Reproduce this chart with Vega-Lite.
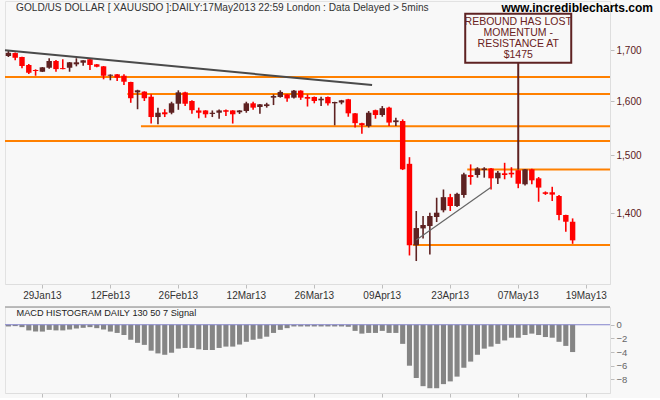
{
  "$schema": "https://vega.github.io/schema/vega-lite/v6.json",
  "background": "#f8f8f8",
  "padding": {"left": 0, "top": 0, "right": 8, "bottom": 0},
  "autosize": {"type": "pad"},
  "config": {
    "font": "Liberation Sans",
    "view": {"stroke": "#e2e2e2"},
    "axis": {"grid": false, "title": null, "labelFont": "Liberation Sans", "labelFontSize": 10, "tickSize": 4, "tickColor": "#bdbdbd", "domainColor": "#dedede", "labelPadding": 2, "labelOverlap": false}
  },
  "datasets": {
    "c": [
      {"d":"2013-01-22","o":1688.5,"h":1698.6,"l":1686.5,"c":1695,"m":-0.25},
      {"d":"2013-01-23","o":1694.5,"h":1695.5,"l":1680,"c":1685,"m":-0.2},
      {"d":"2013-01-24","o":1686.4,"h":1687,"l":1664,"c":1668.5,"m":-0.35},
      {"d":"2013-01-25","o":1670.5,"h":1672.5,"l":1652.7,"c":1655.2,"m":-0.83},
      {"d":"2013-01-28","o":1660.6,"h":1662,"l":1649.3,"c":1658.6,"m":-1.0},
      {"d":"2013-01-29","o":1657.2,"h":1666.5,"l":1656.6,"c":1665.9,"m":-1.0},
      {"d":"2013-01-30","o":1665.1,"h":1684,"l":1663,"c":1678.5,"m":-0.75},
      {"d":"2013-01-31","o":1678.5,"h":1680.5,"l":1657.2,"c":1662.4,"m":-0.83},
      {"d":"2013-02-01","o":1664.4,"h":1682,"l":1662,"c":1662.4,"m":-0.83},
      {"d":"2013-02-04","o":1665.1,"h":1676.5,"l":1657.2,"c":1675.9,"m":-0.7},
      {"d":"2013-02-05","o":1671.9,"h":1684,"l":1667.9,"c":1675.9,"m":-0.55},
      {"d":"2013-02-06","o":1675.1,"h":1680,"l":1669.1,"c":1679.9,"m":-0.45},
      {"d":"2013-02-07","o":1682,"h":1684,"l":1660.4,"c":1670.5,"m":-0.35},
      {"d":"2013-02-08","o":1671.9,"h":1672.5,"l":1666,"c":1667.1,"m":-0.5},
      {"d":"2013-02-11","o":1667.9,"h":1668.5,"l":1642.3,"c":1649.3,"m":-0.7},
      {"d":"2013-02-12","o":1649.3,"h":1652,"l":1640.4,"c":1651.3,"m":-1.0},
      {"d":"2013-02-13","o":1652.1,"h":1652.5,"l":1639,"c":1645.4,"m":-1.2},
      {"d":"2013-02-14","o":1649.3,"h":1652.1,"l":1631,"c":1637.6,"m":-1.5},
      {"d":"2013-02-15","o":1637,"h":1637.5,"l":1597,"c":1605.7,"m":-2.2},
      {"d":"2013-02-18","o":1617,"h":1622,"l":1584.8,"c":1620.9,"m":-2.65},
      {"d":"2013-02-19","o":1618.4,"h":1619,"l":1600.4,"c":1605.7,"m":-2.95},
      {"d":"2013-02-20","o":1608.6,"h":1613.1,"l":1558,"c":1570.1,"m":-3.8},
      {"d":"2013-02-21","o":1570.1,"h":1587.8,"l":1556.8,"c":1578.2,"m":-4.2},
      {"d":"2013-02-22","o":1579,"h":1584.8,"l":1570.1,"c":1575.3,"m":-4.4},
      {"d":"2013-02-25","o":1578.2,"h":1599,"l":1575.3,"c":1596,"m":-4.1},
      {"d":"2013-02-26","o":1595.2,"h":1620.9,"l":1583.7,"c":1617,"m":-3.5},
      {"d":"2013-02-27","o":1617,"h":1618,"l":1590.8,"c":1595.2,"m":-3.4},
      {"d":"2013-02-28","o":1600.4,"h":1601.7,"l":1576.4,"c":1583,"m":-3.4},
      {"d":"2013-03-01","o":1582.5,"h":1587.8,"l":1567.7,"c":1578.2,"m":-3.6},
      {"d":"2013-03-04","o":1582.5,"h":1583,"l":1568.8,"c":1575.3,"m":-3.7},
      {"d":"2013-03-05","o":1575.9,"h":1582.5,"l":1570.1,"c":1578.2,"m":-3.7},
      {"d":"2013-03-06","o":1578.2,"h":1584.3,"l":1567,"c":1582.5,"m":-3.4},
      {"d":"2013-03-07","o":1583,"h":1584.3,"l":1572,"c":1580,"m":-3.2},
      {"d":"2013-03-08","o":1582.5,"h":1583,"l":1558,"c":1575.3,"m":-3.2},
      {"d":"2013-03-11","o":1579,"h":1583,"l":1575.9,"c":1582.5,"m":-2.9},
      {"d":"2013-03-12","o":1581.4,"h":1599,"l":1578.2,"c":1596,"m":-2.5},
      {"d":"2013-03-13","o":1596,"h":1599,"l":1583.7,"c":1587.8,"m":-2.2},
      {"d":"2013-03-14","o":1589,"h":1594.5,"l":1576.4,"c":1594.1,"m":-2.05},
      {"d":"2013-03-15","o":1590.8,"h":1597,"l":1587.8,"c":1594.1,"m":-1.75},
      {"d":"2013-03-18","o":1606.8,"h":1613.1,"l":1592.7,"c":1609.9,"m":-1.2},
      {"d":"2013-03-19","o":1608.1,"h":1620.9,"l":1606.8,"c":1617.8,"m":-0.75},
      {"d":"2013-03-20","o":1613.1,"h":1614,"l":1599,"c":1605.3,"m":-0.5},
      {"d":"2013-03-21","o":1606.8,"h":1621.3,"l":1605,"c":1620.3,"m":-0.25},
      {"d":"2013-03-22","o":1620.3,"h":1621,"l":1602.6,"c":1606.8,"m":-0.25},
      {"d":"2013-03-25","o":1608.1,"h":1613.1,"l":1589.9,"c":1604.8,"m":-0.25},
      {"d":"2013-03-26","o":1608.1,"h":1609,"l":1596,"c":1600.4,"m":-0.25},
      {"d":"2013-03-27","o":1601.7,"h":1608.6,"l":1590.8,"c":1604.8,"m":-0.25},
      {"d":"2013-03-28","o":1608.1,"h":1609,"l":1592,"c":1596,"m":-0.25},
      {"d":"2013-03-29","o":1596,"h":1599,"l":1554.7,"c":1598.5,"m":-0.25},
      {"d":"2013-04-01","o":1597.5,"h":1602.5,"l":1594.1,"c":1601.7,"m":-0.25},
      {"d":"2013-04-02","o":1603.7,"h":1604.5,"l":1570.7,"c":1577.1,"m":-0.3},
      {"d":"2013-04-03","o":1577.1,"h":1577.5,"l":1550.6,"c":1558.7,"m":-0.9},
      {"d":"2013-04-04","o":1558.7,"h":1559.5,"l":1539.3,"c":1555,"m":-1.3},
      {"d":"2013-04-05","o":1553.4,"h":1581.4,"l":1550.6,"c":1578.2,"m":-1.2},
      {"d":"2013-04-08","o":1583,"h":1584,"l":1567,"c":1573.9,"m":-1.2},
      {"d":"2013-04-09","o":1573.9,"h":1590.8,"l":1570.7,"c":1586.7,"m":-0.9},
      {"d":"2013-04-10","o":1587.8,"h":1589.6,"l":1553.4,"c":1559.8,"m":-1.2},
      {"d":"2013-04-11","o":1560.6,"h":1568.8,"l":1553.4,"c":1563.9,"m":-1.2},
      {"d":"2013-04-12","o":1562.7,"h":1565.7,"l":1474,"c":1475.3,"m":-2.8},
      {"d":"2013-04-15","o":1485,"h":1496.8,"l":1331.4,"c":1347.7,"m":-6.0},
      {"d":"2013-04-16","o":1347.7,"h":1403.8,"l":1322.6,"c":1375.6,"m":-7.8},
      {"d":"2013-04-17","o":1375,"h":1395.5,"l":1358.7,"c":1380.6,"m":-9.0},
      {"d":"2013-04-18","o":1378.9,"h":1401,"l":1333,"c":1395.5,"m":-9.3},
      {"d":"2013-04-19","o":1393.8,"h":1426.2,"l":1385.5,"c":1401,"m":-9.3},
      {"d":"2013-04-22","o":1405,"h":1440.3,"l":1401.6,"c":1427.2,"m":-8.7},
      {"d":"2013-04-23","o":1427.2,"h":1432.8,"l":1403.8,"c":1412.2,"m":-8.3},
      {"d":"2013-04-24","o":1412.2,"h":1434.5,"l":1410.5,"c":1432.8,"m":-7.6},
      {"d":"2013-04-25","o":1430.8,"h":1469.4,"l":1426.2,"c":1466.5,"m":-6.3},
      {"d":"2013-04-26","o":1465.3,"h":1484,"l":1448.5,"c":1461.9,"m":-5.4},
      {"d":"2013-04-29","o":1465.3,"h":1479,"l":1460.7,"c":1476.8,"m":-4.4},
      {"d":"2013-04-30","o":1474,"h":1479,"l":1460.7,"c":1476.8,"m":-3.5},
      {"d":"2013-05-01","o":1476.8,"h":1477.5,"l":1440.3,"c":1459.6,"m":-3.2},
      {"d":"2013-05-02","o":1459.6,"h":1472.3,"l":1449.6,"c":1469.3,"m":-2.8},
      {"d":"2013-05-03","o":1468.3,"h":1486.8,"l":1457.9,"c":1465.3,"m":-2.3},
      {"d":"2013-05-06","o":1469.3,"h":1479,"l":1460.7,"c":1466.5,"m":-1.9},
      {"d":"2013-05-07","o":1473.5,"h":1474.5,"l":1442.5,"c":1450.2,"m":-1.9},
      {"d":"2013-05-08","o":1449.2,"h":1476,"l":1447,"c":1475.3,"m":-1.5},
      {"d":"2013-05-09","o":1475.3,"h":1476.5,"l":1449.2,"c":1456.1,"m":-1.3},
      {"d":"2013-05-10","o":1459.6,"h":1461.9,"l":1419.4,"c":1443.5,"m":-1.5},
      {"d":"2013-05-13","o":1435.5,"h":1437,"l":1431,"c":1432.8,"m":-1.8},
      {"d":"2013-05-14","o":1435.5,"h":1444.9,"l":1420.6,"c":1431.5,"m":-1.9},
      {"d":"2013-05-15","o":1429.1,"h":1430.8,"l":1388.4,"c":1397.2,"m":-2.5},
      {"d":"2013-05-16","o":1397.2,"h":1397.5,"l":1369.5,"c":1386,"m":-3.1},
      {"d":"2013-05-17","o":1386,"h":1391.5,"l":1350,"c":1355.6,"m":-4.0}
    ],
    "hf": [{"p": 1647}, {"p": 1526}],
    "hp": [{"d":"2013-02-15","p":1614},{"d":"2013-02-19","p":1553},{"d":"2013-04-26","p":1475},{"d":"2013-04-16","p":1348}],
    "td": [{"d":"2013-01-22","p":1700},{"d":"2013-04-08","p":1631}],
    "tu": [{"d":"2013-04-16","p":1356},{"d":"2013-05-01","p":1444}],
    "a": [{"d":"2013-05-07","top":1775.8,"bot":1675.1,"tp":1758.9,"end":1475,"t":"REBOUND HAS LOST\nMOMENTUM -\nRESISTANCE AT\n$1475"}],
    "tt": [{"d":"2013-01-22","p":1781.5,"t":"GOLD/US DOLLAR [ XAUUSDO ]:DAILY:17May2013 22:59 London : Data Delayed > 5mins"}],
    "web": [{"d":"2013-05-22","p":1779.4,"t":"www.incrediblecharts.com"}],
    "mt": [{"d":"2013-01-22","v":1.28,"t":"MACD HISTOGRAM DAILY 130 50 7 Signal"}],
    "zl": [{"v": 0}],
    "sl": [{"v": 2.6}]
  },
  "spacing": 23,
  "bounds": "flush",
  "vconcat": [
    {
      "width": 605,
      "height": 283,
      "layer": [
        {
          "data": {"name": "hf"},
          "mark": {"type": "rule", "color": "#ff8000", "strokeWidth": 2},
          "encoding": {
            "y": {"field": "p", "type": "quantitative", "scale": {"type": "log", "domain": [1286.9, 1802.9], "nice": false, "zero": false},
                  "axis": {"orient": "right", "values": [1400, 1500, 1600, 1700], "format": ",", "labelColor": "#5c1a1a"}}
          }
        },
        {
          "data": {"name": "hp"},
          "mark": {"type": "rule", "color": "#ff8000", "strokeWidth": 2},
          "encoding": {
            "x": {"field": "d", "type": "ordinal", "bandPosition": 0,
                  "scale": {"type": "band", "paddingInner": 0, "paddingOuter": 0, "domain": ["2013-01-22","2013-01-23","2013-01-24","2013-01-25","2013-01-28","2013-01-29","2013-01-30","2013-01-31","2013-02-01","2013-02-04","2013-02-05","2013-02-06","2013-02-07","2013-02-08","2013-02-11","2013-02-12","2013-02-13","2013-02-14","2013-02-15","2013-02-18","2013-02-19","2013-02-20","2013-02-21","2013-02-22","2013-02-25","2013-02-26","2013-02-27","2013-02-28","2013-03-01","2013-03-04","2013-03-05","2013-03-06","2013-03-07","2013-03-08","2013-03-11","2013-03-12","2013-03-13","2013-03-14","2013-03-15","2013-03-18","2013-03-19","2013-03-20","2013-03-21","2013-03-22","2013-03-25","2013-03-26","2013-03-27","2013-03-28","2013-03-29","2013-04-01","2013-04-02","2013-04-03","2013-04-04","2013-04-05","2013-04-08","2013-04-09","2013-04-10","2013-04-11","2013-04-12","2013-04-15","2013-04-16","2013-04-17","2013-04-18","2013-04-19","2013-04-22","2013-04-23","2013-04-24","2013-04-25","2013-04-26","2013-04-29","2013-04-30","2013-05-01","2013-05-02","2013-05-03","2013-05-06","2013-05-07","2013-05-08","2013-05-09","2013-05-10","2013-05-13","2013-05-14","2013-05-15","2013-05-16","2013-05-17","2013-05-18","2013-05-19","2013-05-20","2013-05-21","2013-05-22"]},
                  "axis": {"values": ["2013-01-29","2013-02-12","2013-02-26","2013-03-12","2013-03-26","2013-04-09","2013-04-23","2013-05-07","2013-05-19"], "labelExpr": "utcFormat(toDate(datum.value), '%d%b%y')", "labelAngle": 0, "labelColor": "#333333"}},
            "x2": {"value": "width"},
            "y": {"field": "p", "type": "quantitative"}
          }
        },
        {
          "data": {"name": "c"},
          "mark": {"type": "rule", "strokeWidth": 1.6},
          "encoding": {
            "x": {"field": "d", "type": "ordinal",
                  "scale": {"type": "band", "paddingInner": 0, "paddingOuter": 0, "domain": ["2013-01-22","2013-01-23","2013-01-24","2013-01-25","2013-01-28","2013-01-29","2013-01-30","2013-01-31","2013-02-01","2013-02-04","2013-02-05","2013-02-06","2013-02-07","2013-02-08","2013-02-11","2013-02-12","2013-02-13","2013-02-14","2013-02-15","2013-02-18","2013-02-19","2013-02-20","2013-02-21","2013-02-22","2013-02-25","2013-02-26","2013-02-27","2013-02-28","2013-03-01","2013-03-04","2013-03-05","2013-03-06","2013-03-07","2013-03-08","2013-03-11","2013-03-12","2013-03-13","2013-03-14","2013-03-15","2013-03-18","2013-03-19","2013-03-20","2013-03-21","2013-03-22","2013-03-25","2013-03-26","2013-03-27","2013-03-28","2013-03-29","2013-04-01","2013-04-02","2013-04-03","2013-04-04","2013-04-05","2013-04-08","2013-04-09","2013-04-10","2013-04-11","2013-04-12","2013-04-15","2013-04-16","2013-04-17","2013-04-18","2013-04-19","2013-04-22","2013-04-23","2013-04-24","2013-04-25","2013-04-26","2013-04-29","2013-04-30","2013-05-01","2013-05-02","2013-05-03","2013-05-06","2013-05-07","2013-05-08","2013-05-09","2013-05-10","2013-05-13","2013-05-14","2013-05-15","2013-05-16","2013-05-17","2013-05-18","2013-05-19","2013-05-20","2013-05-21","2013-05-22"]}},
            "y": {"field": "l", "type": "quantitative"},
            "y2": {"field": "h"},
            "color": {"condition": {"test": "datum.c >= datum.o", "value": "#5e2222"}, "value": "#ff0000"}
          }
        },
        {
          "data": {"name": "c"},
          "mark": {"type": "bar", "width": {"band": 0.8}},
          "encoding": {
            "x": {"field": "d", "type": "ordinal",
                  "scale": {"type": "band", "paddingInner": 0, "paddingOuter": 0, "domain": ["2013-01-22","2013-01-23","2013-01-24","2013-01-25","2013-01-28","2013-01-29","2013-01-30","2013-01-31","2013-02-01","2013-02-04","2013-02-05","2013-02-06","2013-02-07","2013-02-08","2013-02-11","2013-02-12","2013-02-13","2013-02-14","2013-02-15","2013-02-18","2013-02-19","2013-02-20","2013-02-21","2013-02-22","2013-02-25","2013-02-26","2013-02-27","2013-02-28","2013-03-01","2013-03-04","2013-03-05","2013-03-06","2013-03-07","2013-03-08","2013-03-11","2013-03-12","2013-03-13","2013-03-14","2013-03-15","2013-03-18","2013-03-19","2013-03-20","2013-03-21","2013-03-22","2013-03-25","2013-03-26","2013-03-27","2013-03-28","2013-03-29","2013-04-01","2013-04-02","2013-04-03","2013-04-04","2013-04-05","2013-04-08","2013-04-09","2013-04-10","2013-04-11","2013-04-12","2013-04-15","2013-04-16","2013-04-17","2013-04-18","2013-04-19","2013-04-22","2013-04-23","2013-04-24","2013-04-25","2013-04-26","2013-04-29","2013-04-30","2013-05-01","2013-05-02","2013-05-03","2013-05-06","2013-05-07","2013-05-08","2013-05-09","2013-05-10","2013-05-13","2013-05-14","2013-05-15","2013-05-16","2013-05-17","2013-05-18","2013-05-19","2013-05-20","2013-05-21","2013-05-22"]}},
            "y": {"field": "o", "type": "quantitative"},
            "y2": {"field": "c"},
            "color": {"condition": {"test": "datum.c >= datum.o", "value": "#5e2222"}, "value": "#ff0000"}
          }
        },
        {
          "data": {"name": "td"},
          "mark": {"type": "line", "color": "#4a4a4a", "strokeWidth": 2},
          "encoding": {
            "x": {"field": "d", "type": "ordinal", "bandPosition": 0,
                  "scale": {"type": "band", "paddingInner": 0, "paddingOuter": 0, "domain": ["2013-01-22","2013-01-23","2013-01-24","2013-01-25","2013-01-28","2013-01-29","2013-01-30","2013-01-31","2013-02-01","2013-02-04","2013-02-05","2013-02-06","2013-02-07","2013-02-08","2013-02-11","2013-02-12","2013-02-13","2013-02-14","2013-02-15","2013-02-18","2013-02-19","2013-02-20","2013-02-21","2013-02-22","2013-02-25","2013-02-26","2013-02-27","2013-02-28","2013-03-01","2013-03-04","2013-03-05","2013-03-06","2013-03-07","2013-03-08","2013-03-11","2013-03-12","2013-03-13","2013-03-14","2013-03-15","2013-03-18","2013-03-19","2013-03-20","2013-03-21","2013-03-22","2013-03-25","2013-03-26","2013-03-27","2013-03-28","2013-03-29","2013-04-01","2013-04-02","2013-04-03","2013-04-04","2013-04-05","2013-04-08","2013-04-09","2013-04-10","2013-04-11","2013-04-12","2013-04-15","2013-04-16","2013-04-17","2013-04-18","2013-04-19","2013-04-22","2013-04-23","2013-04-24","2013-04-25","2013-04-26","2013-04-29","2013-04-30","2013-05-01","2013-05-02","2013-05-03","2013-05-06","2013-05-07","2013-05-08","2013-05-09","2013-05-10","2013-05-13","2013-05-14","2013-05-15","2013-05-16","2013-05-17","2013-05-18","2013-05-19","2013-05-20","2013-05-21","2013-05-22"]}},
            "y": {"field": "p", "type": "quantitative"}
          }
        },
        {
          "data": {"name": "tu"},
          "mark": {"type": "line", "color": "#666666", "strokeWidth": 1.2},
          "encoding": {
            "x": {"field": "d", "type": "ordinal",
                  "scale": {"type": "band", "paddingInner": 0, "paddingOuter": 0, "domain": ["2013-01-22","2013-01-23","2013-01-24","2013-01-25","2013-01-28","2013-01-29","2013-01-30","2013-01-31","2013-02-01","2013-02-04","2013-02-05","2013-02-06","2013-02-07","2013-02-08","2013-02-11","2013-02-12","2013-02-13","2013-02-14","2013-02-15","2013-02-18","2013-02-19","2013-02-20","2013-02-21","2013-02-22","2013-02-25","2013-02-26","2013-02-27","2013-02-28","2013-03-01","2013-03-04","2013-03-05","2013-03-06","2013-03-07","2013-03-08","2013-03-11","2013-03-12","2013-03-13","2013-03-14","2013-03-15","2013-03-18","2013-03-19","2013-03-20","2013-03-21","2013-03-22","2013-03-25","2013-03-26","2013-03-27","2013-03-28","2013-03-29","2013-04-01","2013-04-02","2013-04-03","2013-04-04","2013-04-05","2013-04-08","2013-04-09","2013-04-10","2013-04-11","2013-04-12","2013-04-15","2013-04-16","2013-04-17","2013-04-18","2013-04-19","2013-04-22","2013-04-23","2013-04-24","2013-04-25","2013-04-26","2013-04-29","2013-04-30","2013-05-01","2013-05-02","2013-05-03","2013-05-06","2013-05-07","2013-05-08","2013-05-09","2013-05-10","2013-05-13","2013-05-14","2013-05-15","2013-05-16","2013-05-17","2013-05-18","2013-05-19","2013-05-20","2013-05-21","2013-05-22"]}},
            "y": {"field": "p", "type": "quantitative"}
          }
        },
        {
          "data": {"name": "a"},
          "mark": {"type": "rule", "color": "#5e2222", "strokeWidth": 2},
          "encoding": {
            "x": {"field": "d", "type": "ordinal",
                  "scale": {"type": "band", "paddingInner": 0, "paddingOuter": 0, "domain": ["2013-01-22","2013-01-23","2013-01-24","2013-01-25","2013-01-28","2013-01-29","2013-01-30","2013-01-31","2013-02-01","2013-02-04","2013-02-05","2013-02-06","2013-02-07","2013-02-08","2013-02-11","2013-02-12","2013-02-13","2013-02-14","2013-02-15","2013-02-18","2013-02-19","2013-02-20","2013-02-21","2013-02-22","2013-02-25","2013-02-26","2013-02-27","2013-02-28","2013-03-01","2013-03-04","2013-03-05","2013-03-06","2013-03-07","2013-03-08","2013-03-11","2013-03-12","2013-03-13","2013-03-14","2013-03-15","2013-03-18","2013-03-19","2013-03-20","2013-03-21","2013-03-22","2013-03-25","2013-03-26","2013-03-27","2013-03-28","2013-03-29","2013-04-01","2013-04-02","2013-04-03","2013-04-04","2013-04-05","2013-04-08","2013-04-09","2013-04-10","2013-04-11","2013-04-12","2013-04-15","2013-04-16","2013-04-17","2013-04-18","2013-04-19","2013-04-22","2013-04-23","2013-04-24","2013-04-25","2013-04-26","2013-04-29","2013-04-30","2013-05-01","2013-05-02","2013-05-03","2013-05-06","2013-05-07","2013-05-08","2013-05-09","2013-05-10","2013-05-13","2013-05-14","2013-05-15","2013-05-16","2013-05-17","2013-05-18","2013-05-19","2013-05-20","2013-05-21","2013-05-22"]}},
            "y": {"field": "bot", "type": "quantitative"},
            "y2": {"field": "end"}
          }
        },
        {
          "data": {"name": "a"},
          "mark": {"type": "bar", "width": 106, "fill": "#f8f8f8", "stroke": "#5e2222", "strokeWidth": 2},
          "encoding": {
            "x": {"field": "d", "type": "ordinal",
                  "scale": {"type": "band", "paddingInner": 0, "paddingOuter": 0, "domain": ["2013-01-22","2013-01-23","2013-01-24","2013-01-25","2013-01-28","2013-01-29","2013-01-30","2013-01-31","2013-02-01","2013-02-04","2013-02-05","2013-02-06","2013-02-07","2013-02-08","2013-02-11","2013-02-12","2013-02-13","2013-02-14","2013-02-15","2013-02-18","2013-02-19","2013-02-20","2013-02-21","2013-02-22","2013-02-25","2013-02-26","2013-02-27","2013-02-28","2013-03-01","2013-03-04","2013-03-05","2013-03-06","2013-03-07","2013-03-08","2013-03-11","2013-03-12","2013-03-13","2013-03-14","2013-03-15","2013-03-18","2013-03-19","2013-03-20","2013-03-21","2013-03-22","2013-03-25","2013-03-26","2013-03-27","2013-03-28","2013-03-29","2013-04-01","2013-04-02","2013-04-03","2013-04-04","2013-04-05","2013-04-08","2013-04-09","2013-04-10","2013-04-11","2013-04-12","2013-04-15","2013-04-16","2013-04-17","2013-04-18","2013-04-19","2013-04-22","2013-04-23","2013-04-24","2013-04-25","2013-04-26","2013-04-29","2013-04-30","2013-05-01","2013-05-02","2013-05-03","2013-05-06","2013-05-07","2013-05-08","2013-05-09","2013-05-10","2013-05-13","2013-05-14","2013-05-15","2013-05-16","2013-05-17","2013-05-18","2013-05-19","2013-05-20","2013-05-21","2013-05-22"]}},
            "y": {"field": "top", "type": "quantitative"},
            "y2": {"field": "bot"}
          }
        },
        {
          "data": {"name": "a"},
          "mark": {"type": "text", "align": "center", "baseline": "middle", "lineBreak": "\n", "lineHeight": 11, "fontSize": 10.5, "color": "#6a2222", "font": "Liberation Sans"},
          "encoding": {
            "x": {"field": "d", "type": "ordinal",
                  "scale": {"type": "band", "paddingInner": 0, "paddingOuter": 0, "domain": ["2013-01-22","2013-01-23","2013-01-24","2013-01-25","2013-01-28","2013-01-29","2013-01-30","2013-01-31","2013-02-01","2013-02-04","2013-02-05","2013-02-06","2013-02-07","2013-02-08","2013-02-11","2013-02-12","2013-02-13","2013-02-14","2013-02-15","2013-02-18","2013-02-19","2013-02-20","2013-02-21","2013-02-22","2013-02-25","2013-02-26","2013-02-27","2013-02-28","2013-03-01","2013-03-04","2013-03-05","2013-03-06","2013-03-07","2013-03-08","2013-03-11","2013-03-12","2013-03-13","2013-03-14","2013-03-15","2013-03-18","2013-03-19","2013-03-20","2013-03-21","2013-03-22","2013-03-25","2013-03-26","2013-03-27","2013-03-28","2013-03-29","2013-04-01","2013-04-02","2013-04-03","2013-04-04","2013-04-05","2013-04-08","2013-04-09","2013-04-10","2013-04-11","2013-04-12","2013-04-15","2013-04-16","2013-04-17","2013-04-18","2013-04-19","2013-04-22","2013-04-23","2013-04-24","2013-04-25","2013-04-26","2013-04-29","2013-04-30","2013-05-01","2013-05-02","2013-05-03","2013-05-06","2013-05-07","2013-05-08","2013-05-09","2013-05-10","2013-05-13","2013-05-14","2013-05-15","2013-05-16","2013-05-17","2013-05-18","2013-05-19","2013-05-20","2013-05-21","2013-05-22"]}},
            "y": {"field": "tp", "type": "quantitative"},
            "text": {"field": "t", "type": "nominal"}
          }
        },
        {
          "data": {"name": "tt"},
          "mark": {"type": "text", "align": "left", "baseline": "alphabetic", "dx": 11, "fontSize": 10.15, "color": "#333333", "font": "Liberation Sans"},
          "encoding": {
            "x": {"field": "d", "type": "ordinal", "bandPosition": 0,
                  "scale": {"type": "band", "paddingInner": 0, "paddingOuter": 0, "domain": ["2013-01-22","2013-01-23","2013-01-24","2013-01-25","2013-01-28","2013-01-29","2013-01-30","2013-01-31","2013-02-01","2013-02-04","2013-02-05","2013-02-06","2013-02-07","2013-02-08","2013-02-11","2013-02-12","2013-02-13","2013-02-14","2013-02-15","2013-02-18","2013-02-19","2013-02-20","2013-02-21","2013-02-22","2013-02-25","2013-02-26","2013-02-27","2013-02-28","2013-03-01","2013-03-04","2013-03-05","2013-03-06","2013-03-07","2013-03-08","2013-03-11","2013-03-12","2013-03-13","2013-03-14","2013-03-15","2013-03-18","2013-03-19","2013-03-20","2013-03-21","2013-03-22","2013-03-25","2013-03-26","2013-03-27","2013-03-28","2013-03-29","2013-04-01","2013-04-02","2013-04-03","2013-04-04","2013-04-05","2013-04-08","2013-04-09","2013-04-10","2013-04-11","2013-04-12","2013-04-15","2013-04-16","2013-04-17","2013-04-18","2013-04-19","2013-04-22","2013-04-23","2013-04-24","2013-04-25","2013-04-26","2013-04-29","2013-04-30","2013-05-01","2013-05-02","2013-05-03","2013-05-06","2013-05-07","2013-05-08","2013-05-09","2013-05-10","2013-05-13","2013-05-14","2013-05-15","2013-05-16","2013-05-17","2013-05-18","2013-05-19","2013-05-20","2013-05-21","2013-05-22"]}},
            "y": {"field": "p", "type": "quantitative"},
            "text": {"field": "t", "type": "nominal"}
          }
        },
        {
          "data": {"name": "web"},
          "mark": {"type": "text", "align": "right", "baseline": "alphabetic", "dx": 43, "fontSize": 12, "fontWeight": "bold", "color": "#000000", "font": "Liberation Sans"},
          "encoding": {
            "x": {"field": "d", "type": "ordinal", "bandPosition": 1,
                  "scale": {"type": "band", "paddingInner": 0, "paddingOuter": 0, "domain": ["2013-01-22","2013-01-23","2013-01-24","2013-01-25","2013-01-28","2013-01-29","2013-01-30","2013-01-31","2013-02-01","2013-02-04","2013-02-05","2013-02-06","2013-02-07","2013-02-08","2013-02-11","2013-02-12","2013-02-13","2013-02-14","2013-02-15","2013-02-18","2013-02-19","2013-02-20","2013-02-21","2013-02-22","2013-02-25","2013-02-26","2013-02-27","2013-02-28","2013-03-01","2013-03-04","2013-03-05","2013-03-06","2013-03-07","2013-03-08","2013-03-11","2013-03-12","2013-03-13","2013-03-14","2013-03-15","2013-03-18","2013-03-19","2013-03-20","2013-03-21","2013-03-22","2013-03-25","2013-03-26","2013-03-27","2013-03-28","2013-03-29","2013-04-01","2013-04-02","2013-04-03","2013-04-04","2013-04-05","2013-04-08","2013-04-09","2013-04-10","2013-04-11","2013-04-12","2013-04-15","2013-04-16","2013-04-17","2013-04-18","2013-04-19","2013-04-22","2013-04-23","2013-04-24","2013-04-25","2013-04-26","2013-04-29","2013-04-30","2013-05-01","2013-05-02","2013-05-03","2013-05-06","2013-05-07","2013-05-08","2013-05-09","2013-05-10","2013-05-13","2013-05-14","2013-05-15","2013-05-16","2013-05-17","2013-05-18","2013-05-19","2013-05-20","2013-05-21","2013-05-22"]}},
            "y": {"field": "p", "type": "quantitative"},
            "text": {"field": "t", "type": "nominal"}
          }
        }
      ]
    },
    {
      "width": 605,
      "height": 86,
      "layer": [
        {
          "data": {"name": "c"},
          "mark": {"type": "bar", "color": "#858585", "width": {"band": 0.75}},
          "encoding": {
            "x": {"field": "d", "type": "ordinal",
                  "scale": {"type": "band", "paddingInner": 0, "paddingOuter": 0, "domain": ["2013-01-22","2013-01-23","2013-01-24","2013-01-25","2013-01-28","2013-01-29","2013-01-30","2013-01-31","2013-02-01","2013-02-04","2013-02-05","2013-02-06","2013-02-07","2013-02-08","2013-02-11","2013-02-12","2013-02-13","2013-02-14","2013-02-15","2013-02-18","2013-02-19","2013-02-20","2013-02-21","2013-02-22","2013-02-25","2013-02-26","2013-02-27","2013-02-28","2013-03-01","2013-03-04","2013-03-05","2013-03-06","2013-03-07","2013-03-08","2013-03-11","2013-03-12","2013-03-13","2013-03-14","2013-03-15","2013-03-18","2013-03-19","2013-03-20","2013-03-21","2013-03-22","2013-03-25","2013-03-26","2013-03-27","2013-03-28","2013-03-29","2013-04-01","2013-04-02","2013-04-03","2013-04-04","2013-04-05","2013-04-08","2013-04-09","2013-04-10","2013-04-11","2013-04-12","2013-04-15","2013-04-16","2013-04-17","2013-04-18","2013-04-19","2013-04-22","2013-04-23","2013-04-24","2013-04-25","2013-04-26","2013-04-29","2013-04-30","2013-05-01","2013-05-02","2013-05-03","2013-05-06","2013-05-07","2013-05-08","2013-05-09","2013-05-10","2013-05-13","2013-05-14","2013-05-15","2013-05-16","2013-05-17","2013-05-18","2013-05-19","2013-05-20","2013-05-21","2013-05-22"]},
                  "axis": {"values": ["2013-01-29","2013-02-12","2013-02-26","2013-03-12","2013-03-26","2013-04-09","2013-04-23","2013-05-07","2013-05-19"], "labels": false}},
            "y": {"field": "m", "type": "quantitative", "scale": {"domain": [-10, 2.6], "nice": false, "zero": false},
                  "axis": {"orient": "right", "values": [0, -2, -4, -6, -8], "labelColor": "#666666", "labelFontSize": 9.5, "labelOverlap": false}},
            "y2": {"datum": 0}
          }
        },
        {
          "data": {"name": "zl"},
          "mark": {"type": "rule", "color": "#8585cc", "strokeWidth": 1},
          "encoding": {"y": {"field": "v", "type": "quantitative",
                  "axis": {"orient": "right", "values": [0, -2, -4, -6, -8], "labelColor": "#666666", "labelFontSize": 9.5, "labelOverlap": false}}}
        },
        {
          "data": {"name": "sl"},
          "mark": {"type": "rule", "color": "#a8a8a8", "strokeWidth": 1.5},
          "encoding": {"y": {"field": "v", "type": "quantitative",
                  "axis": {"orient": "right", "values": [0, -2, -4, -6, -8], "labelColor": "#666666", "labelFontSize": 9.5, "labelOverlap": false}}}
        },
        {
          "data": {"name": "mt"},
          "mark": {"type": "text", "align": "left", "baseline": "alphabetic", "dx": 11.5, "fontSize": 9.2, "color": "#222222", "font": "Liberation Sans"},
          "encoding": {
            "x": {"field": "d", "type": "ordinal", "bandPosition": 0,
                  "scale": {"type": "band", "paddingInner": 0, "paddingOuter": 0, "domain": ["2013-01-22","2013-01-23","2013-01-24","2013-01-25","2013-01-28","2013-01-29","2013-01-30","2013-01-31","2013-02-01","2013-02-04","2013-02-05","2013-02-06","2013-02-07","2013-02-08","2013-02-11","2013-02-12","2013-02-13","2013-02-14","2013-02-15","2013-02-18","2013-02-19","2013-02-20","2013-02-21","2013-02-22","2013-02-25","2013-02-26","2013-02-27","2013-02-28","2013-03-01","2013-03-04","2013-03-05","2013-03-06","2013-03-07","2013-03-08","2013-03-11","2013-03-12","2013-03-13","2013-03-14","2013-03-15","2013-03-18","2013-03-19","2013-03-20","2013-03-21","2013-03-22","2013-03-25","2013-03-26","2013-03-27","2013-03-28","2013-03-29","2013-04-01","2013-04-02","2013-04-03","2013-04-04","2013-04-05","2013-04-08","2013-04-09","2013-04-10","2013-04-11","2013-04-12","2013-04-15","2013-04-16","2013-04-17","2013-04-18","2013-04-19","2013-04-22","2013-04-23","2013-04-24","2013-04-25","2013-04-26","2013-04-29","2013-04-30","2013-05-01","2013-05-02","2013-05-03","2013-05-06","2013-05-07","2013-05-08","2013-05-09","2013-05-10","2013-05-13","2013-05-14","2013-05-15","2013-05-16","2013-05-17","2013-05-18","2013-05-19","2013-05-20","2013-05-21","2013-05-22"]}},
            "y": {"field": "v", "type": "quantitative",
                  "axis": {"orient": "right", "values": [0, -2, -4, -6, -8], "labelColor": "#666666", "labelFontSize": 9.5, "labelOverlap": false}},
            "text": {"field": "t", "type": "nominal"}
          }
        }
      ]
    }
  ]
}
